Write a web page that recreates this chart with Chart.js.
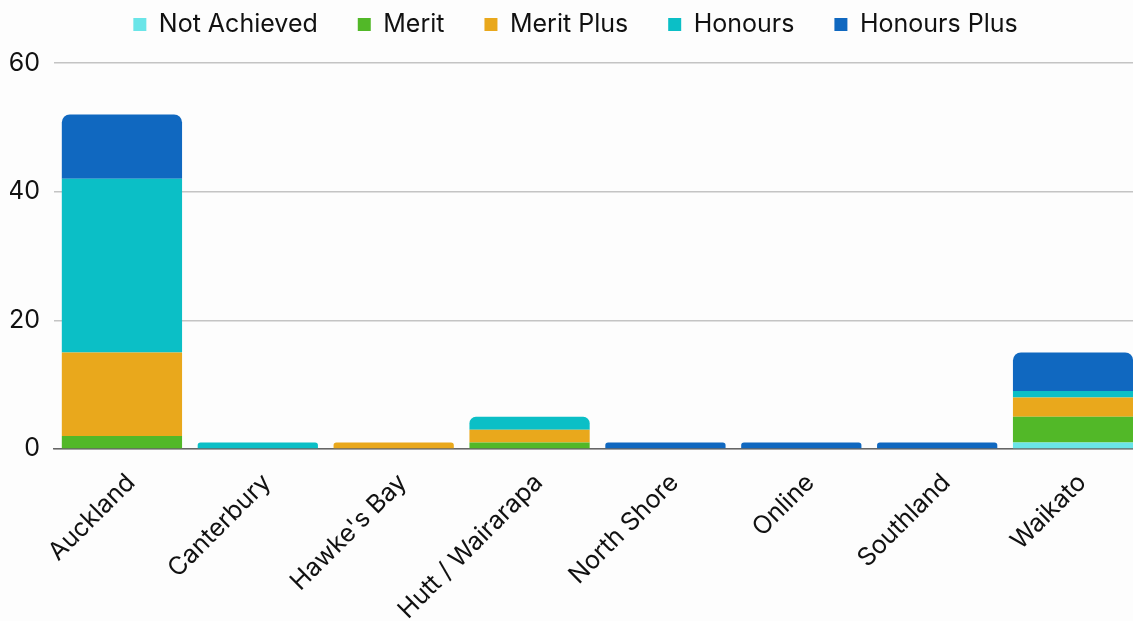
<!DOCTYPE html>
<html>
<head>
<meta charset="utf-8">
<script src="https://cdn.jsdelivr.net/npm/chart.js@4.4.1/dist/chart.umd.min.js"></script>
<style>
    html, body { margin: 0; padding: 0; background: #fdfdfd; overflow: hidden; }
    #wrap { width: 1133px; height: 621px; overflow: hidden; }
    #box { width: 1141px; height: 621px; }
</style>
</head>
<body>
<div id="wrap"><div id="box"><canvas id="chart"></canvas></div></div>
<script>
const regions = ['Auckland', 'Canterbury', "Hawke's Bay", 'Hutt / Wairarapa', 'North Shore', 'Online', 'Southland', 'Waikato'];

const notAchieved = [0, 0, 0, 0, 0, 0, 0, 1];
const merit       = [2, 0, 0, 1, 0, 0, 0, 4];
const meritPlus   = [13, 0, 1, 2, 0, 0, 0, 3];
const honours     = [27, 1, 0, 2, 0, 0, 0, 1];
const honoursPlus = [10, 0, 0, 0, 1, 1, 1, 6];

const seriesNames = ['Not Achieved', 'Merit', 'Merit Plus', 'Honours', 'Honours Plus'];
const seriesColors = ['#6ae5e8', '#52b828', '#e9a81c', '#0bbfc6', '#1068c0'];
const seriesData = [notAchieved, merit, meritPlus, honours, honoursPlus];

const yTicks = [0, 20, 40, 60];

// the top segment of each stack gets the rounded corners
function topDataset(i) {
    let top = -1;
    seriesData.forEach((d, k) => { if (d[i] > 0) top = k; });
    return top;
}

const datasets = seriesNames.map((name, k) => ({
    label: name,
    data: seriesData[k],
    backgroundColor: seriesColors[k],
    borderWidth: 0,
    borderSkipped: false,
    borderRadius: ctx => topDataset(ctx.dataIndex) === ctx.datasetIndex
        ? { topLeft: 8, topRight: 8, bottomLeft: 0, bottomRight: 0 } : 0,
    barPercentage: 0.885,
    categoryPercentage: 1
}));

// a bit more room under the legend
const legendGap = {
    id: 'legendGap',
    beforeInit(chart) {
        const fit = chart.legend.fit;
        chart.legend.fit = function () {
            fit.call(this);
            this.height += 16;
        };
    }
};

const font = "Inter, 'Noto Sans', sans-serif";

new Chart(document.getElementById('chart'), {
    type: 'bar',
    data: { labels: regions, datasets: datasets },
    plugins: [legendGap],
    options: {
        responsive: true,
        maintainAspectRatio: false,
        animation: false,
        layout: { padding: { left: 10, right: 0, top: -28, bottom: -15 } },
        plugins: {
            legend: {
                position: 'top',
                labels: {
                    color: '#111',
                    font: { family: font, size: 25 },
                    boxWidth: 13,
                    boxHeight: 13,
                    padding: 40
                }
            },
            tooltip: { enabled: false }
        },
        scales: {
            x: {
                stacked: true,
                grid: { display: false },
                border: { color: '#666', width: 1.5 },
                afterFit: axis => { axis.paddingLeft = 0; axis.paddingRight = 0; },
                ticks: {
                    color: '#111',
                    font: { family: font, size: 25 },
                    maxRotation: 45,
                    minRotation: 45,
                    padding: 11,
                    labelOffset: 9
                }
            },
            y: {
                stacked: true,
                min: 0,
                max: 60,
                afterBuildTicks: axis => { axis.ticks = yTicks.map(v => ({ value: v })); },
                afterFit: axis => { axis.width = 44; },
                grid: { color: '#c4c4c4', lineWidth: 1.5, drawTicks: false },
                border: { display: false },
                ticks: {
                    color: '#111',
                    font: { family: font, size: 25 },
                    padding: 14
                }
            }
        }
    }
});
</script>
</body>
</html>
